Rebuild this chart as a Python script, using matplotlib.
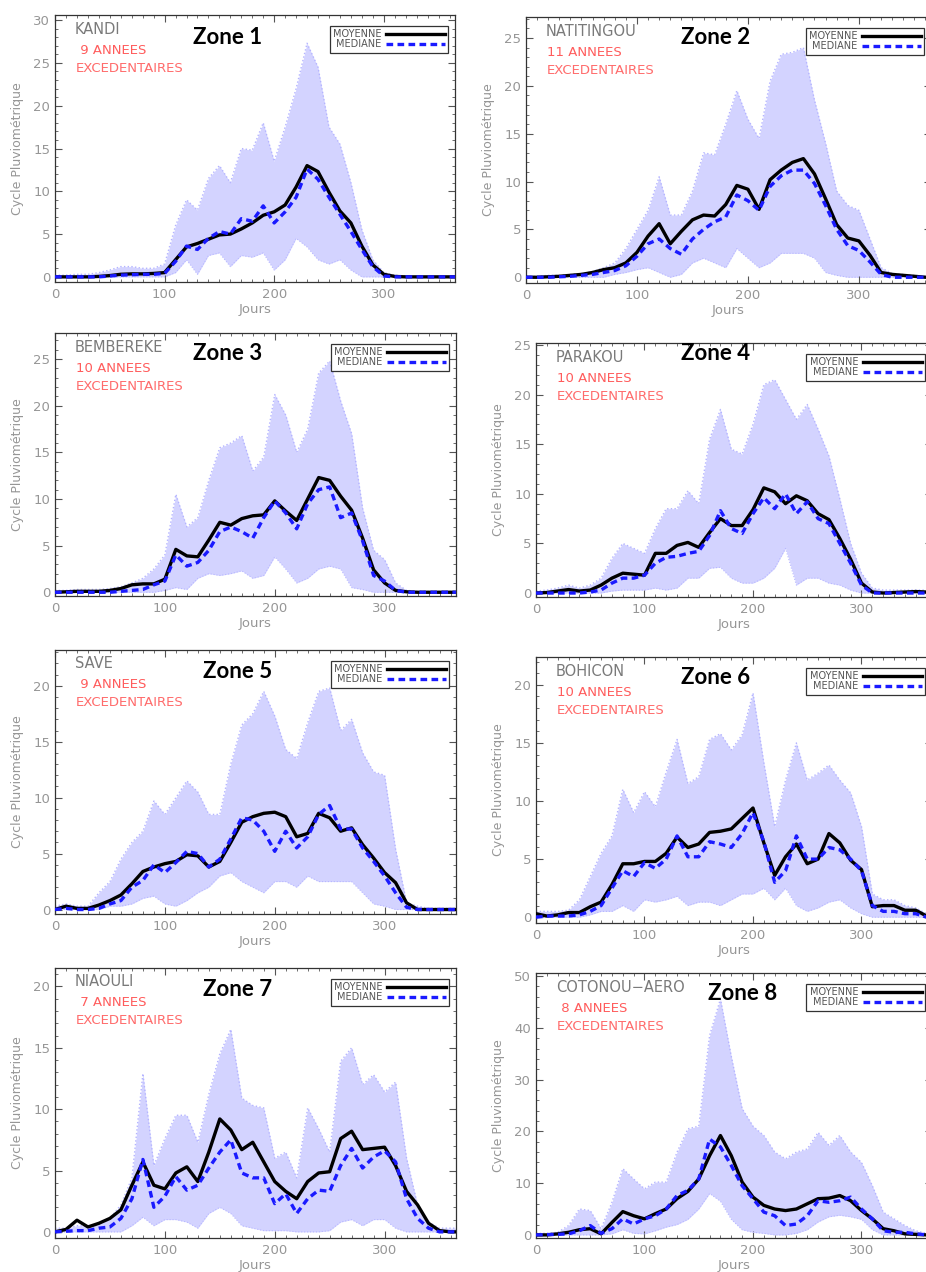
import matplotlib
matplotlib.use('Agg')
import matplotlib.pyplot as plt
from matplotlib.ticker import MultipleLocator
from matplotlib.lines import Line2D

# ---------------- data (days of year, 10-day sampling) ----------------
DAYS = list(range(0, 361, 10)) + [365]

# Zone 1 - KANDI
Z1_MEAN = [0,0,0,0,0.05,0.15,0.3,0.35,0.35,0.4,0.5,2.0,3.5,3.9,4.4,4.9,5.0,5.6,6.3,7.2,7.6,8.4,10.5,13.0,12.3,9.9,7.7,6.3,3.6,1.4,0.3,0.05,0,0,0,0,0,0]
Z1_MED = [0,0,0,0,0,0.1,0.2,0.25,0.3,0.3,0.4,1.8,3.6,3.2,4.5,5.3,5.0,6.8,6.5,8.3,6.3,7.6,9.3,12.6,11.4,9.3,7.3,5.3,3.2,1.2,0.1,0,0,0,0,0,0,0]
Z1_UP = [0.2,0.2,0.3,0.3,0.5,0.8,1.2,1.2,1.0,1.0,1.5,6.0,9.0,7.8,11.5,13.0,11.0,15.0,14.8,18.0,13.5,17.5,22.0,27.3,24.5,17.5,15.5,11.0,5.5,2.0,0.5,0.2,0.1,0,0,0,0,0]
Z1_LOW = [0,0,0,0,0,0,0,0,0,0,0,0.5,2.0,0.3,2.5,2.8,1.2,2.5,2.3,2.8,0.8,2.0,4.5,3.5,2.0,1.5,2.0,0.8,0,0,0,0,0,0,0,0,0,0]

# Zone 2 - NATITINGOU
Z2_MEAN = [0,0,0.05,0.1,0.2,0.3,0.5,0.8,1.0,1.5,2.6,4.3,5.6,3.5,4.8,6.0,6.5,6.4,7.6,9.6,9.2,7.1,10.2,11.2,12.0,12.4,10.8,8.2,5.5,4.1,3.8,2.3,0.5,0.3,0.2,0.1,0,0]
Z2_MED = [0,0,0,0.05,0.1,0.2,0.3,0.5,0.7,1.2,2.2,3.5,4.0,3.0,2.4,4.0,5.0,5.8,6.3,8.6,8.0,7.0,9.5,10.6,11.2,11.2,9.8,7.5,5.0,3.3,2.8,1.6,0.3,0,0,0,0,0]
Z2_UP = [0.1,0.1,0.2,0.2,0.3,0.4,0.6,1.0,1.5,3.0,5.0,7.0,10.5,6.5,6.5,9.0,13.0,12.8,16.0,19.5,16.5,14.5,20.5,23.3,23.5,24.0,18.5,14.0,9.0,7.5,7.0,4.0,1.0,0.4,0.3,0.2,0.1,0.1]
Z2_LOW = [0,0,0,0,0,0,0,0,0.3,0.5,0.8,1.0,0.5,0,0.3,1.5,2.0,1.5,1.0,3.0,2.0,1.0,1.5,2.5,2.5,2.5,2.0,0.5,0.2,0,0,0,0,0,0,0,0,0]

# Zone 3 - BEMBEREKE
Z3_MEAN = [0,0.05,0.1,0.1,0.1,0.2,0.4,0.8,0.9,0.9,1.4,4.6,3.9,3.8,5.6,7.5,7.2,7.9,8.2,8.3,9.8,8.7,7.7,10.0,12.3,12.0,10.3,8.8,5.8,2.4,1.0,0.2,0.05,0,0,0,0,0]
Z3_MED = [0,0,0,0,0,0,0.1,0.2,0.3,0.8,1.2,4.0,2.8,3.2,4.5,6.5,7.0,6.5,5.8,8.0,9.8,8.5,6.8,9.5,11.0,11.3,8.0,8.5,5.5,1.8,1.2,0.2,0,0,0,0,0,0]
Z3_UP = [0.2,0.2,0.3,0.3,0.3,0.4,0.6,1.0,1.5,2.5,4.0,10.5,7.0,8.0,12.0,15.5,16.0,16.8,13.0,14.5,21.2,19.0,15.0,17.5,23.5,24.8,20.5,17.0,9.0,4.5,3.5,1.0,0.2,0.1,0.1,0.1,0.1,0.1]
Z3_LOW = [0,0,0,0,0,0,0,0,0,0,0.2,0.5,0.3,1.5,2.0,1.8,2.0,2.3,1.5,1.8,3.8,2.5,1.0,1.5,2.5,2.8,2.5,0.5,0.3,0,0,0,0,0,0,0,0,0]

# Zone 4 - PARAKOU
Z4_MEAN = [0,0.05,0.2,0.35,0.2,0.3,0.8,1.5,2.0,1.9,1.8,4.0,4.0,4.8,5.1,4.6,6.1,7.5,6.8,6.8,8.4,10.6,10.2,9.0,9.8,9.3,8.0,7.4,5.5,3.4,1.0,0.1,0,0.05,0.1,0.15,0.1,0.1]
Z4_MED = [0,0,0,0,0,0.1,0.3,1.0,1.5,1.5,1.8,3.0,3.6,3.7,4.0,4.2,5.8,8.3,6.5,6.0,8.0,9.6,8.5,10.0,8.0,9.2,7.5,7.0,5.0,3.0,0.8,0,0,0,0,0,0,0]
Z4_UP = [0.2,0.3,0.5,0.8,0.5,0.8,1.5,3.5,5.0,4.5,4.0,6.5,8.5,8.5,10.3,9.0,15.5,18.5,14.5,14.0,17.0,21.0,21.5,19.5,17.5,19.0,16.5,13.8,9.5,5.0,2.0,0.5,0.3,0.3,0.3,0.3,0.3,0.3]
Z4_LOW = [0,0,0,0,0,0,0,0.2,0.3,0.3,0.3,0.5,0.3,0.5,1.5,1.5,2.5,2.6,1.5,1.0,1.0,1.5,2.5,4.5,0.8,1.5,1.5,1.0,0.8,0.3,0,0,0,0,0,0,0,0]

# Zone 5 - SAVE
Z5_MEAN = [0,0.3,0.1,0.1,0.4,0.8,1.3,2.3,3.4,3.8,4.1,4.3,4.9,4.8,3.8,4.3,6.0,7.8,8.3,8.6,8.7,8.3,6.5,6.8,8.6,8.2,7.0,7.3,5.8,4.6,3.3,2.4,0.6,0,0,0,0,0]
Z5_MED = [0,0.1,0,0,0.1,0.5,0.8,2.0,2.6,4.0,3.3,4.2,5.2,5.0,3.8,4.5,6.3,8.2,8.0,7.0,5.2,7.0,5.5,6.5,8.5,9.3,7.2,7.2,5.5,4.3,3.0,1.5,0.2,0,0,0,0,0]
Z5_UP = [0.3,0.5,0.3,0.3,1.5,2.5,4.5,6.0,7.0,9.7,8.5,10.0,11.5,10.5,8.5,8.5,13.0,16.5,17.5,19.5,17.3,14.3,13.5,16.7,19.5,19.8,16.0,17.0,14.0,12.3,12.0,5.4,0.6,0.3,0.1,0.1,0.1,0.1]
Z5_LOW = [0,0,0,0,0,0.3,0.3,0.5,1.0,1.2,0.5,0.3,0.8,1.5,2.0,3.0,3.3,2.5,2.0,1.5,2.5,2.5,2.0,3.0,2.5,2.5,2.5,2.5,1.5,0.5,0.3,0,0,0,0,0,0,0]

# Zone 6 - BOHICON
Z6_MEAN = [0.3,0.1,0.2,0.4,0.4,0.9,1.3,2.8,4.6,4.6,4.8,4.8,5.5,6.9,6.0,6.3,7.3,7.4,7.6,8.5,9.4,6.4,3.6,5.2,6.3,4.6,5.0,7.2,6.4,4.9,4.1,0.9,1.0,1.0,0.6,0.6,0.1,0]
Z6_MED = [0,0.1,0.1,0.1,0.2,0.5,1.0,2.5,4.0,3.5,4.7,4.2,5.0,7.0,5.2,5.2,6.5,6.3,6.0,7.2,9.0,6.5,3.0,4.0,7.0,5.0,5.0,6.0,5.8,5.0,4.0,1.0,0.5,0.5,0.3,0.3,0,0]
Z6_UP = [0.5,0.5,0.5,0.6,1.5,3.5,5.5,7.0,11.0,9.0,10.8,9.5,12.5,15.3,11.5,12.1,15.3,15.8,14.4,15.7,19.3,13.3,7.8,11.8,15.0,11.8,12.4,13.1,11.8,10.7,7.8,2.0,1.5,1.5,1.0,0.8,0.3,0.2]
Z6_LOW = [0,0,0,0,0,0.2,0.5,0.5,1.0,0.5,1.5,1.3,1.5,1.8,1.0,1.3,1.3,1.0,1.5,2.0,2.0,2.5,1.5,2.5,1.0,0.5,0.8,1.3,1.5,0.8,0.3,0,0,0,0,0,0,0]

# Zone 7 - NIAOULI
Z7_MEAN = [0,0.2,0.95,0.4,0.7,1.1,1.8,3.8,5.7,3.8,3.5,4.8,5.3,4.1,6.5,9.2,8.3,6.7,7.3,5.7,4.1,3.3,2.7,4.1,4.8,4.9,7.6,8.2,6.7,6.8,6.9,5.4,3.3,2.2,0.7,0.1,0,0]
Z7_MED = [0,0.05,0.1,0.1,0.3,0.4,1.1,2.7,5.9,2.0,2.9,4.5,3.4,3.8,5.2,6.5,7.5,4.8,4.4,4.4,2.3,3.1,1.5,2.7,3.4,3.3,5.4,6.8,5.2,6.1,6.6,5.7,2.7,1.1,0.3,0,0,0]
Z7_UP = [0.3,0.3,0.5,0.5,0.6,1.1,2.2,4.4,12.9,5.4,7.6,9.5,9.5,7.3,11.2,14.5,16.5,10.9,10.3,10.1,6.0,6.5,4.4,10.1,8.4,6.5,13.9,15.0,12.0,12.8,11.4,12.2,6.0,2.2,0.8,0.3,0.3,0.3]
Z7_LOW = [0,0,0,0,0,0,0,0.5,1.2,0.5,1.0,1.0,0.8,0.3,1.5,2.0,1.5,0.5,0.3,0.1,0.1,0.1,0,0,0,0.1,0.8,1.0,0.5,1.0,1.0,0.3,0,0,0,0,0,0]

# Zone 8 - COTONOU-AERO
Z8_MEAN = [0,0,0.2,0.5,1.0,1.2,0.2,2.4,4.5,3.7,3.1,4.1,5.0,7.0,8.4,10.8,15.3,19.2,15.3,10.2,7.3,5.7,5.0,4.7,5.0,6.0,7.0,7.1,7.6,6.6,4.7,3.1,1.2,0.8,0.2,0.1,0,0]
Z8_MED = [0,0.05,0.1,0.2,0.8,1.8,0.3,1.2,3.1,2.1,3.1,3.7,5.0,7.6,8.6,10.8,18.5,17.0,13.4,9.5,7.0,4.4,3.7,1.8,2.1,3.7,6.6,6.3,6.6,7.3,5.0,3.1,0.8,0.5,0.5,0.2,0,0]
Z8_UP = [0.3,0.3,0.5,1.8,5.0,4.7,1.2,6.3,12.8,10.8,8.9,10.2,10.2,16.0,20.5,21.0,38.5,45.6,34.5,24.4,21.0,19.2,16.0,14.7,16.0,16.6,19.8,17.3,19.2,16.0,14.0,9.5,4.4,3.1,1.8,0.8,0.3,0.3]
Z8_LOW = [0,0,0,0,0,0,0,0.2,1.0,0.3,0.2,0.8,1.5,2.0,3.0,5.0,8.0,6.5,3.0,1.0,0.5,0.3,0,0,0.3,1.0,2.5,3.5,3.8,3.5,3.0,1.0,0,0,0,0,0,0]

STATIONS = ['KANDI', 'NATITINGOU', 'BEMBEREKE', 'PARAKOU',
            'SAVE', 'BOHICON', 'NIAOULI', 'COTONOU\u2212AERO']
ZONES = ['Zone 1', 'Zone 2', 'Zone 3', 'Zone 4', 'Zone 5', 'Zone 6', 'Zone 7', 'Zone 8']
YEARS = [' 9 ANNEES', '11 ANNEES', '10 ANNEES', '10 ANNEES',
         ' 9 ANNEES', '10 ANNEES', ' 7 ANNEES', ' 8 ANNEES']
EXC = 'EXCEDENTAIRES'
LEGEND_LABELS = ['MOYENNE', 'MEDIANE']
XLABEL = 'Jours'
YLABEL = 'Cycle Pluviométrique'
X_TICKS = [0, 100, 200, 300]

MEANS = [Z1_MEAN, Z2_MEAN, Z3_MEAN, Z4_MEAN, Z5_MEAN, Z6_MEAN, Z7_MEAN, Z8_MEAN]
MEDS = [Z1_MED, Z2_MED, Z3_MED, Z4_MED, Z5_MED, Z6_MED, Z7_MED, Z8_MED]
UPS = [Z1_UP, Z2_UP, Z3_UP, Z4_UP, Z5_UP, Z6_UP, Z7_UP, Z8_UP]
LOWS = [Z1_LOW, Z2_LOW, Z3_LOW, Z4_LOW, Z5_LOW, Z6_LOW, Z7_LOW, Z8_LOW]

# ---------------- layout (pixels) ----------------
W, H = 926, 1272
BOXES = [(55, 15, 455, 282), (526, 17, 931, 283),
         (55, 333, 456, 596), (536, 343, 932, 597),
         (55, 650, 456, 914), (536, 657, 932, 923),
         (55, 968, 456, 1238), (536, 973, 932, 1238)]
YLIMS = [(-0.6, 30.6), (-0.6, 27.2), (-0.4, 27.8), (-0.4, 25.2),
         (-0.4, 23.2), (-0.5, 22.4), (-0.5, 21.5), (-0.6, 50.6)]
Y_MAJOR = [5, 5, 5, 5, 5, 5, 5, 10]
Y_MINOR = [1, 1, 1, 1, 1, 1, 1, 2]
ZONE_POS = [(228, 38), (716, 38), (228, 353), (716, 353),
            (238, 672), (716, 677), (238, 989), (743, 994)]

GRAY = '#969696'
FILL = '#d3d3ff'
BLUE = '#1a1aff'

fig = plt.figure(figsize=(W / 100, H / 100), dpi=100)

for i in range(8):
    l, t, r, b = BOXES[i]
    wpx, hpx = r - l, b - t
    ax = fig.add_axes([l / W, 1 - b / H, wpx / W, hpx / H])

    ax.fill_between(DAYS, LOWS[i], UPS[i], color=FILL, lw=0, zorder=1)
    ax.plot(DAYS, UPS[i], color='#b4b4ff', lw=1.0, ls=':', zorder=2)
    ax.plot(DAYS, LOWS[i], color='#b8b8ff', lw=0.8, ls=':', zorder=2)
    ax.plot(DAYS, MEANS[i], color='black', lw=2.4, zorder=4,
            solid_joinstyle='round')
    ax.plot(DAYS, MEDS[i], color=BLUE, lw=2.4, dashes=(2.0, 1.3), zorder=5,
            dash_joinstyle='round')

    ax.set_xlim(0, 365)
    ax.set_ylim(*YLIMS[i])
    ax.set_xticks(X_TICKS)
    ax.xaxis.set_minor_locator(MultipleLocator(10))
    ax.yaxis.set_major_locator(MultipleLocator(Y_MAJOR[i]))
    ax.yaxis.set_minor_locator(MultipleLocator(Y_MINOR[i]))
    ax.tick_params(which='both', direction='in', top=True, right=True,
                   color='#555555', labelcolor=GRAY, labelsize=9.5)
    ax.tick_params(which='major', length=5, width=0.8)
    ax.tick_params(which='minor', length=2.5, width=0.6)
    ax.tick_params(axis='x', pad=4)
    ax.tick_params(axis='y', pad=3.5)
    for s in ax.spines.values():
        s.set_color('#333333')
        s.set_linewidth(0.9)

    ax.set_xlabel(XLABEL, color=GRAY, fontsize=9.5)
    ax.xaxis.set_label_coords(0.5, -21 / hpx)
    ax.set_ylabel(YLABEL, color=GRAY, fontsize=9)
    ax.yaxis.set_label_coords(-31 / wpx, 0.5)

    ax.annotate(STATIONS[i], xy=(0, 1), xycoords='axes fraction',
                xytext=(20, -14), textcoords='offset pixels',
                ha='left', va='center', color='#7a7a7a', fontsize=10.5)
    ax.annotate(YEARS[i], xy=(0, 1), xycoords='axes fraction',
                xytext=(21, -35), textcoords='offset pixels',
                ha='left', va='center', color='#ff5c5c', fontsize=9.5)
    ax.annotate(EXC, xy=(0, 1), xycoords='axes fraction',
                xytext=(21, -53), textcoords='offset pixels',
                ha='left', va='center', color='#ff6b6b', fontsize=9.5)

    handles = [Line2D([], [], color='black', lw=2.4),
               Line2D([], [], color=BLUE, lw=2.4, dashes=(2.0, 1.3))]
    leg = ax.legend(handles, LEGEND_LABELS, loc='upper right',
                    bbox_to_anchor=(1 - 7 / wpx, 1 - 11 / hpx), borderaxespad=0,
                    fontsize=7, markerfirst=False, handlelength=6,
                    handletextpad=0.5, labelspacing=0.0, borderpad=0.35,
                    frameon=True, fancybox=False, edgecolor='#333333',
                    framealpha=1)
    leg.get_frame().set_linewidth(0.9)
    leg.set_zorder(10)
    for txt in leg.get_texts():
        txt.set_color('#555555')

    zx, zy = ZONE_POS[i]
    fig.text(zx / W, 1 - zy / H, ZONES[i], ha='center', va='center',
             fontsize=16, fontweight='bold', family='Lato', color='black',
             zorder=20)

fig.savefig('out.png', dpi=100)
